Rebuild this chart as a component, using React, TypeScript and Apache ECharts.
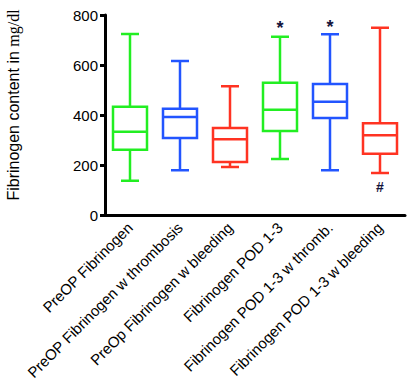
import React, { useEffect, useRef } from "react";
import * as echarts from "echarts";

const categories = [
  "PreOP Fibrinogen",
  "PreOP Fibrinogen w thrombosis",
  "PreOp Fibrinogen w bleeding",
  "Fibrinogen POD 1-3",
  "Fibrinogen POD 1-3 w thromb.",
  "Fibrinogen POD 1-3 w bleeding",
];
// [min, Q1, median, Q3, max]
const boxStats = [
  [137, 261, 333, 433, 724],
  [179, 308, 392, 425, 616],
  [192, 212, 303, 348, 515],
  [224, 336, 421, 529, 713],
  [179, 388, 453, 524, 723],
  [168, 245, 319, 367, 749],
];
const boxColors = ["#22ee22", "#2255ff", "#ff3322", "#22ee22", "#2255ff", "#ff3322"];
const annotText = ["", "", "", "*", "*", "#"];
const annotValue = [0, 0, 0, 748, 752, 112];
const yTicks = { min: 0, max: 800, interval: 200 };

export default function App() {
  const ref = useRef<HTMLDivElement>(null);
  useEffect(() => {
    if (!ref.current) return;
    const chart = echarts.init(ref.current, null, { renderer: "svg" });
    const boxData = boxStats.map((s, i) => [i, ...s]);
    const annData = annotText
      .map((t, i) => ({ t, i, v: annotValue[i] }))
      .filter((a) => a.t !== "")
      .map((a) => [a.i, a.v, a.t]);
    chart.setOption({
      animation: false,
      grid: { left: 105, right: 4, top: 15, bottom: 174, containLabel: false },
      graphic: [
        {
          type: "text",
          x: 13,
          y: 105,
          rotation: Math.PI / 2,
          style: {
            text: "{a|Fibrinogen content in }{b|mg/dl}",
            align: "center",
            verticalAlign: "middle",
            rich: {
              a: { fontFamily: "Liberation Sans, Arial, sans-serif", fontSize: 16, fill: "#000" },
              b: { fontFamily: "Liberation Serif, serif", fontSize: 16, fill: "#000" },
            },
          },
        },
      ],
      xAxis: {
        type: "category",
        data: categories,
        boundaryGap: true,
        axisLine: { lineStyle: { color: "#000", width: 3 } },
        axisTick: { alignWithLabel: true, length: 6, lineStyle: { color: "#000", width: 3 } },
        axisLabel: {
          rotate: 45,
          interval: 0,
          margin: 10,
          color: "#000",
          fontSize: 15,
          fontFamily: "Liberation Sans, Arial, sans-serif",
        },
      },
      yAxis: {
        type: "value",
        min: yTicks.min,
        max: yTicks.max,
        interval: yTicks.interval,
        splitLine: { show: false },
        axisLine: { show: true, lineStyle: { color: "#000", width: 3 } },
        axisTick: { show: true, length: 5, lineStyle: { color: "#000", width: 3 } },
        axisLabel: {
          margin: 7,
          color: "#000",
          fontSize: 15,
          fontFamily: "Liberation Sans, Arial, sans-serif",
        },
      },
      series: [
        {
          type: "custom",
          data: boxData,
          encode: { x: 0, y: [1, 2, 3, 4, 5] },
          clip: false,
          renderItem: (params: any, api: any) => {
            const i = api.value(0);
            const pMin = api.coord([i, api.value(1)]);
            const pQ1 = api.coord([i, api.value(2)]);
            const pMed = api.coord([i, api.value(3)]);
            const pQ3 = api.coord([i, api.value(4)]);
            const pMax = api.coord([i, api.value(5)]);
            const cw = api.size([1, 0])[0];
            const bw = cw * 0.68;
            const cap = cw * 0.36;
            const x = pMin[0];
            const style = { stroke: boxColors[params.dataIndex], fill: "none", lineWidth: 2.5 };
            return {
              type: "group",
              children: [
                { type: "line", shape: { x1: x, y1: pMax[1], x2: x, y2: pQ3[1] }, style },
                { type: "line", shape: { x1: x, y1: pQ1[1], x2: x, y2: pMin[1] }, style },
                { type: "line", shape: { x1: x - cap / 2, y1: pMax[1], x2: x + cap / 2, y2: pMax[1] }, style },
                { type: "line", shape: { x1: x - cap / 2, y1: pMin[1], x2: x + cap / 2, y2: pMin[1] }, style },
                { type: "rect", shape: { x: x - bw / 2, y: pQ3[1], width: bw, height: pQ1[1] - pQ3[1] }, style },
                { type: "line", shape: { x1: x - bw / 2, y1: pMed[1], x2: x + bw / 2, y2: pMed[1] }, style },
              ],
            };
          },
        },
        {
          type: "custom",
          data: annData,
          encode: { x: 0, y: 1 },
          clip: false,
          renderItem: (params: any, api: any) => {
            const p = api.coord([api.value(0), api.value(1)]);
            const t = annData[params.dataIndex][2] as string;
            return {
              type: "text",
              x: p[0],
              y: p[1],
              style: {
                text: t,
                fill: "#14143c",
                fontSize: t === "*" ? 18 : 14,
                fontWeight: "bold",
                fontFamily: "Liberation Sans, Arial, sans-serif",
                align: "center",
                verticalAlign: "middle",
              },
            };
          },
        },
      ],
    });
    return () => chart.dispose();
  }, []);
  return (
    <div
      ref={ref}
      style={{ position: "fixed", left: 0, top: 0, width: 409, height: 389, background: "#fff" }}
    />
  );
}
